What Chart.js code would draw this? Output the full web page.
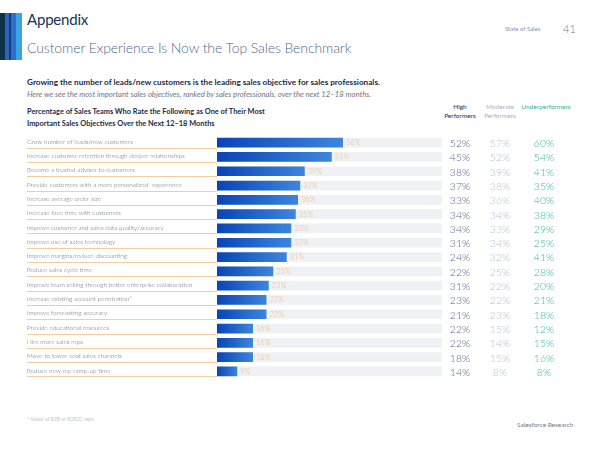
<!DOCTYPE html>
<html>
<head>
<meta charset="utf-8">
<script src="https://cdn.jsdelivr.net/npm/chart.js@4"></script>
<style>
  html, body { margin: 0; padding: 0; background: #fff; }
  body { width: 600px; height: 450px; position: relative; overflow: hidden; font-family: Lato, "Open Sans", sans-serif; }
  .abs { position: absolute; white-space: nowrap; }
  .stripe { position: absolute; top: 13px; height: 47px; }
  #wrap { position: absolute; left: 0; top: 132px; width: 600px; height: 250px; }
</style>
</head>
<body>
<div class="stripe" style="left:0;width:5px;background:#0d3247"></div>
<div class="stripe" style="left:5px;width:4px;background:#2c63bd"></div>
<div class="stripe" style="left:9px;width:2px;background:#1c3d7a"></div>
<div class="stripe" style="left:11px;width:5px;background:#2f6fcc"></div>
<div class="stripe" style="left:16px;width:6px;background:#3aa3e3"></div>

<div class="abs" style="left:27px;top:10px;font-size:15px;letter-spacing:-0.2px;color:#16325c;">Appendix</div>
<div class="abs" style="left:27px;top:39px;font-size:14px;letter-spacing:-0.1px;font-weight:300;color:#54698d;">Customer Experience Is Now the Top Sales Benchmark</div>
<div class="abs" style="left:505px;top:25px;font-size:6px;color:#8a94a6;">State of Sales</div>
<div class="abs" style="left:563px;top:22px;font-size:11px;font-weight:300;color:#6f7a8e;">41</div>

<div class="abs" style="left:27px;top:77px;font-size:8.2px;font-weight:bold;color:#1c2b4a;">Growing the number of leads/new customers is the leading sales objective for sales professionals.</div>
<div class="abs" style="left:27px;top:89px;font-size:7.7px;font-style:italic;color:#6f7686;">Here we see the most important sales objectives, ranked by sales professionals, over the next 12–18 months.</div>
<div class="abs" style="left:27px;top:106px;font-size:7.4px;font-weight:bold;line-height:12px;color:#1c2b4a;">Percentage of Sales Teams Who Rate the Following as One of Their Most<br>Important Sales Objectives Over the Next 12–18 Months</div>

<div class="abs" style="left:440px;top:102px;width:40px;text-align:center;font-size:6.5px;line-height:9px;color:#1c2b5e;">High<br>Performers</div>
<div class="abs" style="left:480px;top:102px;width:40px;text-align:center;font-size:6.5px;line-height:9px;color:#a3b1c6;">Moderate<br>Performers</div>
<div class="abs" style="left:518px;top:102px;width:56px;text-align:center;font-size:6.5px;line-height:9px;color:#2fb39c;">Underperformers</div>

<div id="wrap"><canvas id="chart"></canvas></div>

<div class="abs" style="left:27px;top:416px;font-size:5px;color:#c4c8d0;">* Asked of B2B or B2B2C reps.</div>
<div class="abs" style="left:517px;top:421px;font-size:6.5px;color:#6f7a8e;">Salesforce Research</div>

<script>
const objectives = [
    'Grow number of leads/new customers',
    'Increase customer retention through deeper relationships',
    'Become a trusted advisor to customers',
    'Provide customers with a more personalized  experience',
    'Increase average order size',
    'Increase face time with customers',
    'Improve customer and sales data quality/accuracy',
    'Improve use of sales technology',
    'Improve margins/reduce discounting',
    'Reduce sales cycle time',
    'Improve team selling through better enterprise collaboration',
    'Increase existing account penetration*',
    'Improve forecasting accuracy',
    'Provide educational resources',
    'Hire more sales reps',
    'Move to lower-cost sales channels',
    'Reduce new rep ramp-up time'
];
const allTeams = [56, 51, 39, 37, 36, 35, 33, 33, 31, 25, 23, 22, 22, 16, 16, 16, 9];
const highPerf = [52, 45, 38, 37, 33, 34, 34, 31, 24, 22, 31, 23, 21, 22, 22, 18, 14];
const moderatePerf = [57, 52, 39, 38, 36, 34, 33, 34, 32, 25, 22, 22, 23, 15, 14, 15, 8];
const underPerf = [60, 54, 41, 35, 40, 38, 29, 25, 41, 28, 20, 21, 18, 12, 15, 16, 8];
const trackMax = [100, 100, 100, 100, 100, 100, 100, 100, 100, 100, 100, 100, 100, 100, 100, 100, 100];

const COLS = [
    { data: highPerf, x: 460, color: '#5a6690' },
    { data: moderatePerf, x: 500, color: '#b3bfd1' },
    { data: underPerf, x: 544, color: '#36b9a2' }
];

// labels, underlines, value tags and the three performer columns
const rowText = {
    id: 'rowText',
    afterDatasetsDraw(chart) {
        const { ctx, scales } = chart;
        const xs = scales.x, ys = scales.y;
        ctx.save();
        objectives.forEach((label, i) => {
            const y = ys.getPixelForValue(i);
            ctx.strokeStyle = '#f4cd9e';
            ctx.lineWidth = 1;
            ctx.beginPath();
            ctx.moveTo(27, Math.round(y + 5) + 0.5);
            ctx.lineTo(xs.getPixelForValue(0), Math.round(y + 5) + 0.5);
            ctx.stroke();

            ctx.fillStyle = '#62697b';
            ctx.font = '300 6.4px Lato';
            ctx.textAlign = 'left';
            ctx.textBaseline = 'middle';
            ctx.fillText(label, 27, y - 1);

            ctx.fillStyle = '#ebbb82';
            ctx.font = '300 7.5px Lato';
            ctx.fillText(allTeams[i] + '%', xs.getPixelForValue(allTeams[i]) + 3, y);

            ctx.font = '300 10.5px Lato';
            ctx.textAlign = 'center';
            COLS.forEach(c => {
                ctx.fillStyle = c.color;
                ctx.fillText(c.data[i] + '%', c.x, y + 1);
            });
        });
        ctx.restore();
    }
};

new Chart(document.getElementById('chart'), {
    type: 'bar',
    data: {
        labels: objectives,
        datasets: [
            {
                data: allTeams, order: 1, grouped: false,
                barPercentage: 0.68, categoryPercentage: 1,
                backgroundColor: (c) => {
                    const chart = c.chart;
                    if (!chart.chartArea || c.dataIndex === undefined) return '#1f5fcc';
                    const xs = chart.scales.x;
                    const x0 = xs.getPixelForValue(0);
                    const x1 = xs.getPixelForValue(allTeams[c.dataIndex]);
                    const g = chart.ctx.createLinearGradient(x0, 0, x1, 0);
                    g.addColorStop(0, '#0a44b6');
                    g.addColorStop(1, '#3c86de');
                    return g;
                }
            },
            {
                data: trackMax, order: 2, grouped: false,
                barPercentage: 0.68, categoryPercentage: 1,
                backgroundColor: '#eff1f5'
            }
        ]
    },
    options: {
        indexAxis: 'y',
        responsive: true, maintainAspectRatio: false, animation: false,
        layout: { padding: { left: 217, right: 158, top: 3.5, bottom: 3.4 } },
        scales: {
            x: { display: false, min: 0, max: 100 },
            y: { display: false }
        },
        plugins: { legend: { display: false }, tooltip: { enabled: false } }
    },
    plugins: [rowText]
});
</script>
</body>
</html>
